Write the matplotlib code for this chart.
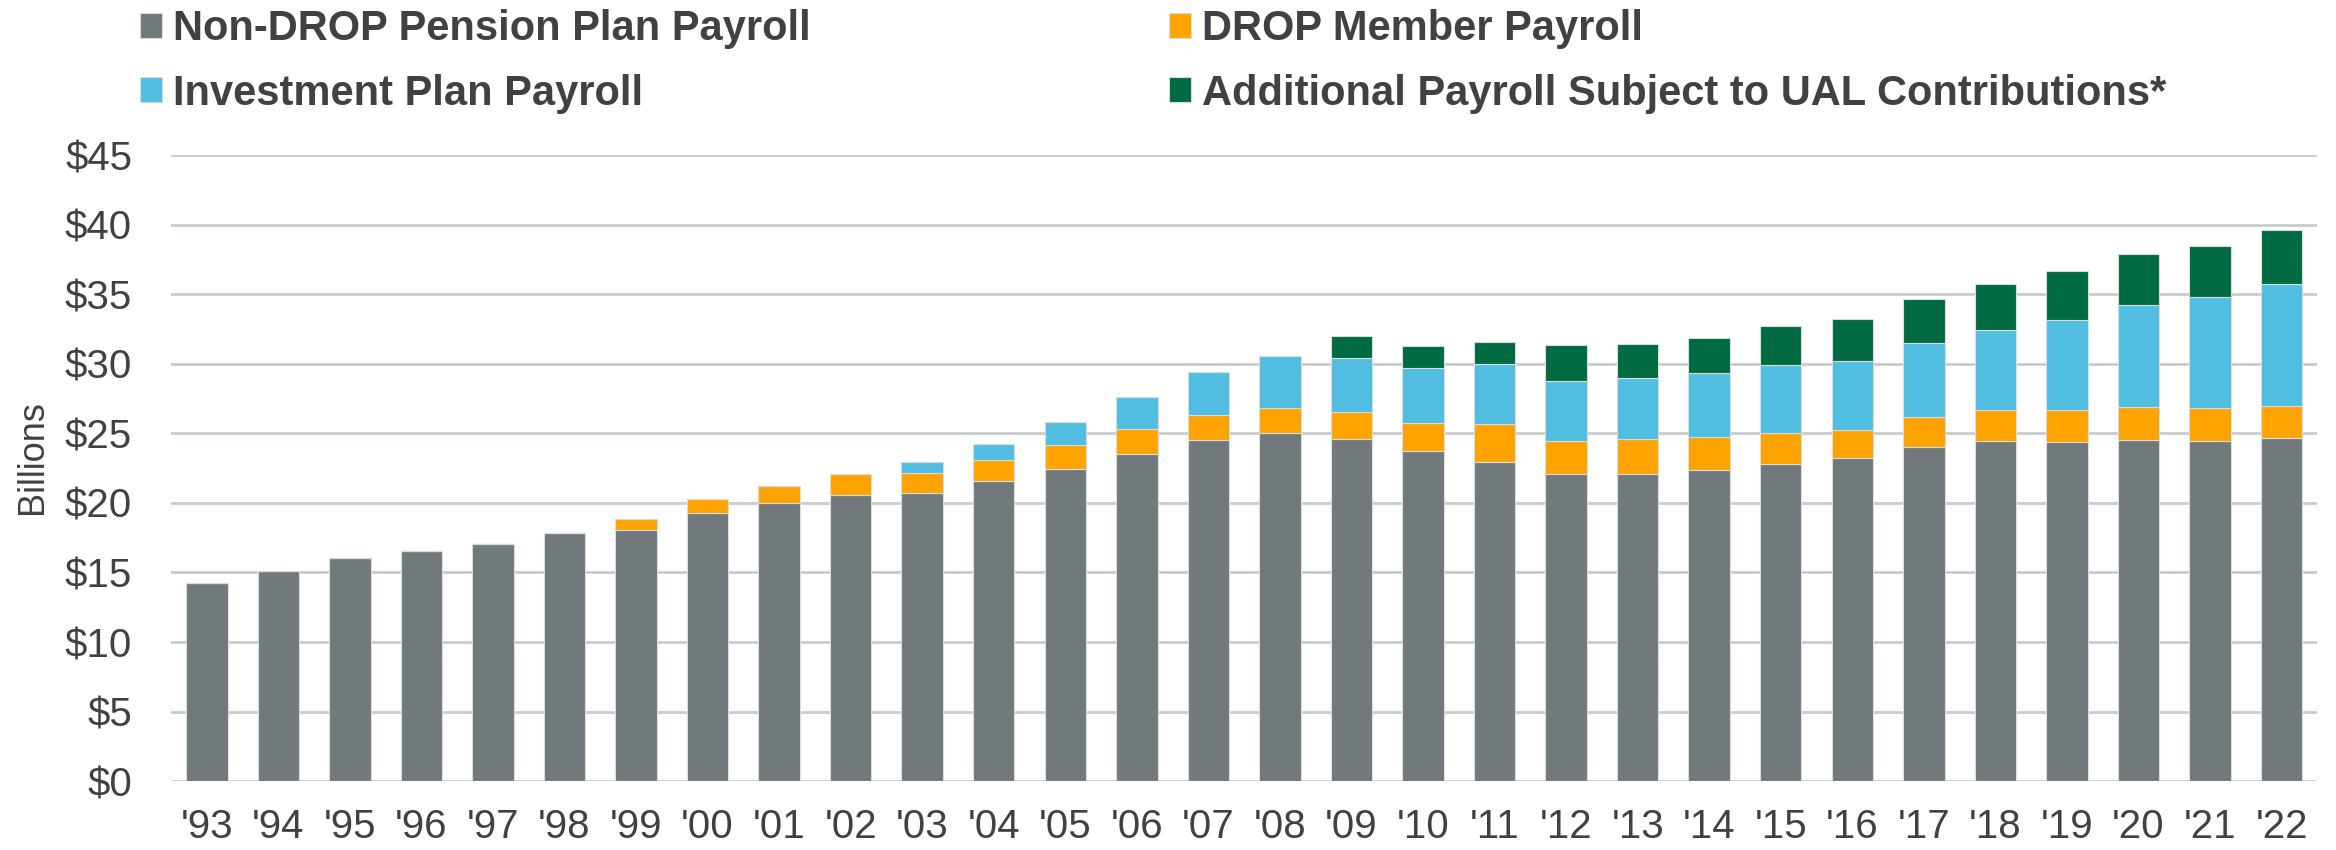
import matplotlib.pyplot as plt
import numpy as np

years = ["'93", "'94", "'95", "'96", "'97", "'98", "'99", "'00", "'01", "'02",
         "'03", "'04", "'05", "'06", "'07", "'08", "'09", "'10", "'11", "'12",
         "'13", "'14", "'15", "'16", "'17", "'18", "'19", "'20", "'21", "'22"]

# segment heights, billions
non_drop = [14.27, 15.13, 16.04, 16.54, 17.05, 17.80, 18.08, 19.30, 20.02, 20.60,
            20.72, 21.54, 22.40, 23.49, 24.50, 24.99, 24.58, 23.72, 22.93, 22.06,
            22.04, 22.35, 22.78, 23.24, 24.03, 24.44, 24.37, 24.53, 24.46, 24.65]
drop = [0, 0, 0, 0, 0, 0, 0.74, 1.01, 1.21, 1.44,
        1.42, 1.54, 1.76, 1.80, 1.83, 1.85, 1.97, 1.99, 2.76, 2.40,
        2.52, 2.35, 2.26, 1.97, 2.11, 2.23, 2.30, 2.36, 2.33, 2.33]
invest = [0, 0, 0, 0, 0, 0, 0, 0, 0, 0,
          0.79, 1.15, 1.66, 2.31, 3.10, 3.72, 3.84, 4.01, 4.27, 4.30,
          4.39, 4.66, 4.85, 5.02, 5.36, 5.74, 6.44, 7.35, 8.02, 8.75]
additional = [0, 0, 0, 0, 0, 0, 0, 0, 0, 0,
              0, 0, 0, 0, 0, 0, 1.59, 1.54, 1.63, 2.57,
              2.50, 2.50, 2.81, 2.95, 3.12, 3.34, 3.53, 3.67, 3.68, 3.91]

plt.rcParams['font.family'] = ['Liberation Sans', 'DejaVu Sans']
text_col = '#3F4144'

fig = plt.figure(figsize=(23.36, 8.5), dpi=100)
ax = fig.add_axes([0.0732, 0.081, 0.9188, 0.7366])

x = np.arange(len(years))
w = 0.58
edge = dict(edgecolor='#D8DCDC', linewidth=0.8)
b1 = ax.bar(x, non_drop, w, color='#72797C', **edge)
bottom = np.array(non_drop)
b2 = ax.bar(x, drop, w, bottom=bottom, color='#FFA300', **edge)
bottom = bottom + np.array(drop)
b3 = ax.bar(x, invest, w, bottom=bottom, color='#50BDE1', **edge)
bottom = bottom + np.array(invest)
b4 = ax.bar(x, additional, w, bottom=bottom, color='#006A40', **edge)

ax.set_xlim(-0.5, len(years) - 0.5)
ax.set_ylim(0, 45)
ax.set_yticks(range(0, 46, 5))
ax.set_yticklabels(['$' + str(v) for v in range(0, 46, 5)])
ax.set_xticks(x)
ax.set_xticklabels(years)
ax.tick_params(length=0, labelsize=29, colors=text_col)
ax.tick_params(axis='x', pad=19)
ax.tick_params(axis='y', pad=28)
ax.grid(axis='y', color='#C8CCCB', linewidth=2)
ax.set_axisbelow(True)
for s in ax.spines.values():
    s.set_visible(False)
ax.set_ylabel('Billions', fontsize=26, color=text_col)
ax.yaxis.set_label_coords(-0.0565, 0.517)

leg = fig.legend([b1, b3, b2, b4],
                 ['Non-DROP Pension Plan Payroll', 'Investment Plan Payroll',
                  'DROP Member Payroll', 'Additional Payroll Subject to UAL Contributions*'],
                 ncol=2, loc='upper left', bbox_to_anchor=(0.0599, 0.989),
                 frameon=False, prop={'size': 30, 'weight': 'bold'},
                 borderaxespad=0, borderpad=0,
                 handlelength=0.53, handleheight=0.53, handletextpad=0.26,
                 columnspacing=8.6, labelspacing=0.58)
for t in leg.get_texts():
    t.set_color(text_col)

fig.savefig('out.png', dpi=100)
